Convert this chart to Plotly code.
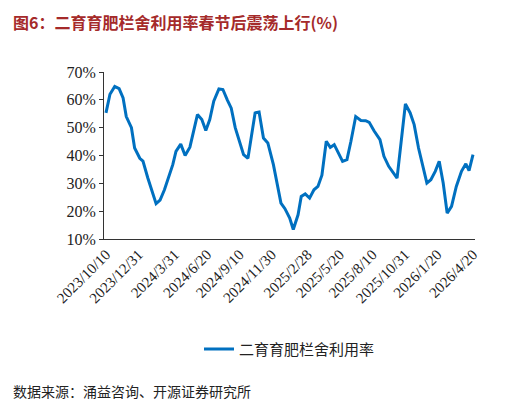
import pandas as pd
import plotly.graph_objects as go

# day offsets from 2023-10-10 and utilisation rate (%)
day_offsets = [0, 10, 22, 33, 43, 51, 64, 72, 85, 93, 105, 126, 136, 147, 168, 176, 188, 199, 211,
               230, 241, 251, 261, 271, 284, 294, 305, 315, 325, 346, 357, 375, 385, 396, 407, 421,
               440, 450, 462, 471, 483, 491, 501, 512, 523, 533, 543, 554, 564, 574, 595, 606, 616,
               628, 641, 653, 662, 674, 689, 699, 711, 732, 753, 765, 775, 786, 807, 817, 828, 838,
               848, 858, 869, 881, 894, 905, 913, 923]
rate = [55.3, 62, 64.8, 64, 60.7, 54, 50, 42.7, 39, 38, 32, 22.7, 24, 27.7, 36.7, 41.5, 44.1, 40, 43,
        54.7, 52.9, 49, 52.9, 59.5, 63.9, 63.7, 60, 57, 50, 40.3, 39, 55.3, 55.6, 46.3, 44.5, 36.7,
        22.9, 20.9, 17.5, 13.4, 18.7, 25.3, 26.2, 24.7, 27.7, 28.9, 32.9, 45.1, 42.9, 43.9, 37.9, 38.5, 45.1,
        54, 52.6, 52.5, 51.9, 48.9, 45.7, 39.7, 36.1, 31.9, 58.5, 55.3, 51.1, 42.7, 30.1, 31.3, 34.3, 37.9,
        30.1, 19.3, 21.7, 28.9, 34.3, 37, 34.6, 40.3]
tick_labels = ["2023/10/10", "2023/12/31", "2024/3/31", "2024/6/20", "2024/9/10", "2024/11/30",
               "2025/2/28", "2025/5/20", "2025/8/10", "2025/10/31", "2026/1/20", "2026/4/20"]

dates = pd.Timestamp("2023-10-10") + pd.to_timedelta(day_offsets, unit="D")
serif = "Liberation Serif, Times New Roman, DejaVu Serif, serif"

fig = go.Figure()
fig.add_trace(go.Scatter(x=dates, y=[v / 100 for v in rate], mode="lines", name="二育育肥栏舍利用率",
                         line=dict(color="#0070C0", width=3)))

fig.update_layout(
    width=520, height=402, plot_bgcolor="white", paper_bgcolor="white",
    margin=dict(l=96, r=53, t=64, b=171),
    font=dict(family=serif, size=16, color="#222"),
    showlegend=True,
    legend=dict(orientation="h", x=0.5, xanchor="center", y=-0.66, yanchor="middle",
                font=dict(family="Noto Sans CJK SC", size=15)),
)
fig.update_xaxes(tickvals=[pd.Timestamp(t) for t in tick_labels], ticktext=tick_labels, tickangle=-45,
                 tickfont=dict(family=serif, size=15),
                 showline=True, linecolor="#333", showgrid=False, ticks="",
                 range=[dates[0] - pd.Timedelta(days=5), dates[-1] + pd.Timedelta(days=5)])
fig.update_yaxes(range=[0.1, 0.7], dtick=0.1, tickformat=".0%", showline=True, linecolor="#333",
                 tickfont=dict(family=serif, size=16),
                 ticks="outside", ticklen=4, tickcolor="#333", showgrid=False, zeroline=False)

fig.add_annotation(text="<b>图6：二育育肥栏舍利用率春节后震荡上行(%)</b>", xref="paper", yref="paper",
                   x=-0.25, y=1.3, xanchor="left", yanchor="middle", showarrow=False,
                   font=dict(family="Noto Sans CJK SC", size=16, color="#A52A2A"))
fig.add_annotation(text="数据来源：涌益咨询、开源证券研究所", xref="paper", yref="paper",
                   x=-0.25, y=-0.91, xanchor="left", yanchor="middle", showarrow=False,
                   font=dict(family="Noto Sans CJK SC", size=14, color="#222"))

fig.write_html("out.html")
